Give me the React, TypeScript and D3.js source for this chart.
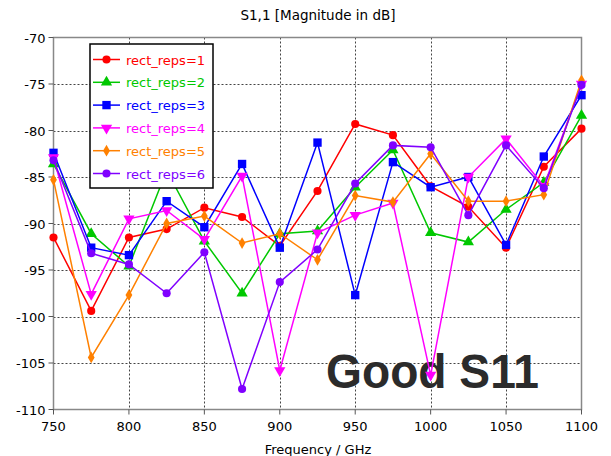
import React from "react";
import * as d3 from "d3";

// Frequency sweep (GHz)
const frequencies = [750, 775, 800, 825, 850, 875, 900, 925, 950, 975, 1000, 1025, 1050, 1075, 1100];

// S1,1 magnitude in dB per rect_reps setting
const reps1 = [-91.5, -99.4, -91.5, -90.6, -88.3, -89.3, -92.4, -86.5, -79.3, -80.5, -86.0, -88.2, -92.6, -83.9, -79.8];
const reps2 = [-83.6, -91.1, -94.6, -84.3, -91.9, -97.5, -91.1, -90.8, -86.1, -82.1, -91.0, -92.0, -88.5, -85.6, -78.4];
const reps3 = [-82.4, -92.6, -93.4, -87.6, -90.4, -83.6, -92.6, -81.3, -97.7, -83.4, -86.1, -85.0, -92.3, -82.8, -76.2];
const reps4 = [-82.9, -97.6, -89.5, -88.6, -91.7, -84.9, -105.8, -91.0, -89.1, -87.8, -106.3, -85.0, -80.9, -86.0, -75.0];
const reps5 = [-85.3, -104.4, -97.7, -90.0, -89.2, -92.1, -91.1, -93.9, -87.0, -87.7, -82.5, -87.6, -87.6, -86.9, -74.6];
const reps6 = [-83.2, -93.2, -94.4, -97.5, -93.1, -107.8, -96.3, -92.8, -85.7, -81.6, -81.8, -89.1, -81.6, -86.2, -75.1];

const seriesNames = ["rect_reps=1", "rect_reps=2", "rect_reps=3", "rect_reps=4", "rect_reps=5", "rect_reps=6"];
const seriesValues = [reps1, reps2, reps3, reps4, reps5, reps6];
const seriesColors = ["#ff0000", "#00c800", "#0000ff", "#ff00ff", "#ff8000", "#8000ff"];

const xTicks = [750, 800, 850, 900, 950, 1000, 1050, 1100];
const yTicks = [-70, -75, -80, -85, -90, -95, -100, -105, -110];

const W = 611;
const H = 456;
const left = 53.5;
const right = 581.5;
const top = 37.5;
const bottom = 409.5;
const font = "'DejaVu Sans', Verdana, sans-serif";

type MarkerKind = "circle" | "triUp" | "square" | "triDown" | "diamond";
const markerKinds: MarkerKind[] = ["circle", "triUp", "square", "triDown", "diamond", "circle"];

function markerPath(kind: MarkerKind): { d: string; rotate: number } {
  switch (kind) {
    case "triUp":
      return { d: d3.symbol().type(d3.symbolTriangle).size(55)() as string, rotate: 0 };
    case "triDown":
      return { d: d3.symbol().type(d3.symbolTriangle).size(55)() as string, rotate: 180 };
    case "square":
      return { d: d3.symbol().type(d3.symbolSquare).size(70)() as string, rotate: 0 };
    case "diamond":
      return { d: d3.symbol().type(d3.symbolDiamond).size(40)() as string, rotate: 0 };
    default:
      return { d: d3.symbol().type(d3.symbolCircle).size(52)() as string, rotate: 0 };
  }
}

export default function App() {
  const x = d3.scaleLinear().domain([750, 1100]).range([left, right]);
  const y = d3.scaleLinear().domain([-110, -70]).range([bottom, top]);
  const line = d3
    .line<number>()
    .x((_, i) => x(frequencies[i]))
    .y((v) => y(v));

  const legendX = 90;
  const legendY = 44;
  const legendW = 123;
  const legendH = 144;
  const rowH = 22.8;

  return (
    <svg
      width={W}
      height={H}
      style={{ position: "absolute", left: 0, top: 0, background: "#fff" }}
      fontFamily={font}
    >
      <rect x={0} y={0} width={W} height={H} fill="#fff" />
      <text x={318} y={20} textAnchor="middle" fontSize={13.5} fill="#000">
        S1,1 [Magnitude in dB]
      </text>

      {/* grid */}
      <g stroke="#444" strokeWidth={1} strokeDasharray="2,2">
        {xTicks.slice(1, -1).map((t) => (
          <line key={"gx" + t} x1={Math.round(x(t)) + 0.5} x2={Math.round(x(t)) + 0.5} y1={top} y2={bottom} />
        ))}
        {yTicks.slice(1, -1).map((t) => (
          <line key={"gy" + t} x1={left} x2={right} y1={Math.round(y(t)) + 0.5} y2={Math.round(y(t)) + 0.5} />
        ))}
      </g>

      {/* frame and ticks */}
      <rect x={left} y={top} width={right - left} height={bottom - top} fill="none" stroke="#888" strokeWidth={1.5} />
      <g stroke="#555" strokeWidth={1}>
        {xTicks.map((t) => (
          <line key={"tx" + t} x1={x(t)} x2={x(t)} y1={bottom} y2={bottom + 5} />
        ))}
        {yTicks.map((t) => (
          <line key={"ty" + t} x1={left - 5} x2={left} y1={y(t)} y2={y(t)} />
        ))}
      </g>
      <g fontSize={13} fill="#000">
        {xTicks.map((t) => (
          <text key={"lx" + t} x={x(t)} y={bottom + 21} textAnchor="middle">
            {t}
          </text>
        ))}
        {yTicks.map((t) => (
          <text key={"ly" + t} x={left - 8} y={y(t) + 5} textAnchor="end">
            {t}
          </text>
        ))}
      </g>
      <text x={318} y={454} textAnchor="middle" fontSize={13} fill="#000">
        Frequency / GHz
      </text>

      {/* annotation */}
      <text
        x={326}
        y={388}
        fontFamily="'Liberation Sans', Arial, sans-serif"
        fontWeight="bold"
        fontSize={49}
        fill="#2b2b2b"
        textLength={213}
        lengthAdjust="spacingAndGlyphs"
      >
        Good S11
      </text>

      {/* series */}
      {seriesValues.map((vals, si) => {
        const m = markerPath(markerKinds[si]);
        return (
          <g key={"s" + si}>
            <path d={line(vals) as string} fill="none" stroke={seriesColors[si]} strokeWidth={1.5} />
            {vals.map((v, i) => (
              <path
                key={i}
                d={m.d}
                transform={`translate(${x(frequencies[i])},${y(v)}) rotate(${m.rotate})`}
                fill={seriesColors[si]}
              />
            ))}
          </g>
        );
      })}

      {/* legend */}
      <rect x={legendX} y={legendY} width={legendW} height={legendH} fill="#fff" stroke="#000" strokeWidth={1.5} />
      {seriesNames.map((name, si) => {
        const m = markerPath(markerKinds[si]);
        const cy = legendY + 15.5 + si * rowH;
        return (
          <g key={"lg" + si}>
            <line x1={legendX + 3} x2={legendX + 30} y1={cy} y2={cy} stroke={seriesColors[si]} strokeWidth={1.5} />
            <path d={m.d} transform={`translate(${legendX + 16.5},${cy}) rotate(${m.rotate})`} fill={seriesColors[si]} />
            <text x={legendX + 36} y={cy + 5} fontSize={13} fill={seriesColors[si]}>
              {name}
            </text>
          </g>
        );
      })}
    </svg>
  );
}
